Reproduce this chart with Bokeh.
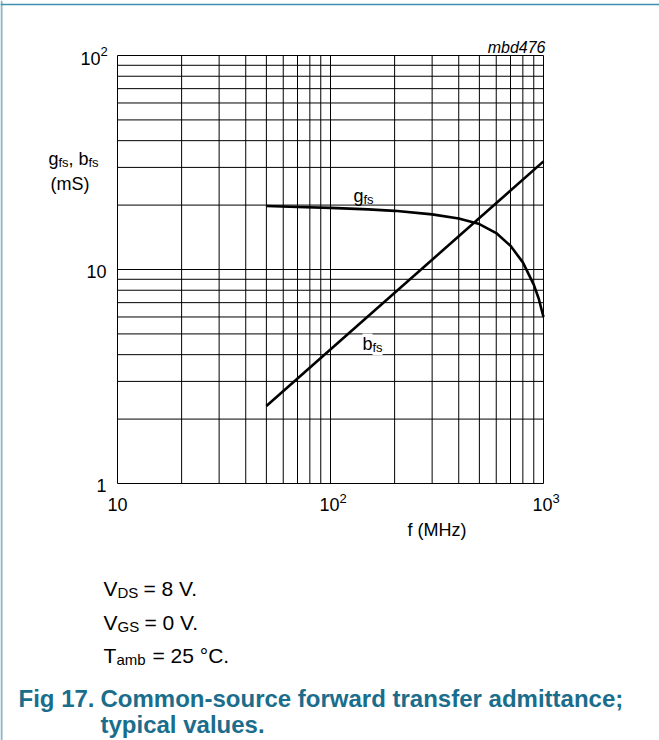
from bokeh.plotting import figure
from bokeh.models import Label, Span, Range1d
from bokeh.embed import file_html
from bokeh.resources import INLINE

# ---- data ----
freq_g = [50, 70, 100, 150, 200, 300, 400, 500, 600, 700, 800, 900, 950, 1000]
g_fs = [19.8, 19.6, 19.4, 19.1, 18.8, 18.1, 17.3, 16.3, 14.8, 12.9, 10.8, 8.5, 7.3, 6.0]
freq_b = [50, 1000]
b_fs = [2.3, 32.0]

x_major = [10, 100, 1000]
x_minor = [20, 30, 40, 50, 60, 70, 80, 90, 200, 300, 400, 500, 600, 700, 800, 900]
y_major = [1, 10, 100]
y_minor = [2, 3, 4, 5, 6, 7, 8, 9, 20, 30, 40, 50, 60, 70, 80, 90]
x_tick_base = ["10", "10", "10"]
x_tick_exp = ["", "2", "3"]
y_tick_base = ["1", "10", "10"]
y_tick_exp = ["", "", "2"]

FONT = "Liberation Sans"
TEAL = "#1b6d8c"

# ---- layout (page pixels) ----
W, H = 659, 740
FL, FT, FR, FB = 117, 55, 543, 483          # chart frame
DX = (FR - FL) / 2.0                          # px per decade
DY = (FB - FT) / 2.0

x_start = 10 ** (1 - FL / DX)
x_end = 10 ** (1 + (W - FL) / DX)
y_start = 10 ** (0 - (H - FB) / DY)
y_end = 10 ** (0 + FB / DY)

p = figure(width=W, height=H, x_axis_type="log", y_axis_type="log",
           x_range=Range1d(x_start, x_end), y_range=Range1d(y_start, y_end),
           x_axis_location=None, y_axis_location=None,
           output_backend="svg", toolbar_location=None,
           min_border=0)
p.outline_line_color = None
p.background_fill_color = "white"
p.border_fill_color = "white"
p.xgrid.visible = False
p.ygrid.visible = False

# page frame lines
p.add_layout(Span(location=1, dimension="height", location_units="screen",
                  line_color="#86b4c8", line_width=2))
p.add_layout(Span(location=H - 4, dimension="width", location_units="screen",
                  line_color="#3f8fae", line_width=1.5))

# grid
xs = x_major + x_minor
p.segment(x0=xs, y0=[y_major[0]] * len(xs), x1=xs, y1=[y_major[-1]] * len(xs),
          line_color="black", line_width=1)
ys = y_major + y_minor
p.segment(x0=[x_major[0]] * len(ys), y0=ys, x1=[x_major[-1]] * len(ys), y1=ys,
          line_color="black", line_width=1)

# curves
p.line(freq_g, g_fs, line_color="black", line_width=2.6)
p.line(freq_b, b_fs, line_color="black", line_width=2.6)


def lab(px, py, text, size, style="normal", color="black", align="left", bg=None):
    kw = {}
    if bg:
        kw = dict(background_fill_color=bg, background_fill_alpha=1.0)
    p.add_layout(Label(x=px, y=H - py, x_units="screen", y_units="screen",
                       text=text, text_font=FONT, text_font_size=f"{size}px",
                       text_font_style=style, text_color=color, text_align=align,
                       text_baseline="alphabetic", **kw))


def tick_label(x, y, text, size, align, baseline, xo, yo):
    p.add_layout(Label(x=x, y=y, text=text, text_font=FONT,
                       text_font_size=f"{size}px", text_color="black",
                       text_align=align, text_baseline=baseline,
                       x_offset=xo, y_offset=yo))


# x tick labels
for v, b, e in zip(x_major, x_tick_base, x_tick_exp):
    if e:
        tick_label(v, y_major[0], b, 18, "center", "middle", -1, -21)
        tick_label(v, y_major[0], e, 13, "left", "middle", 9, -15)
    else:
        tick_label(v, y_major[0], b, 18, "center", "middle", 0, -21)

# y tick labels
for v, b, e in zip(y_major, y_tick_base, y_tick_exp):
    if e:
        tick_label(x_major[0], v, b, 18, "right", "middle", -17, -3)
        tick_label(x_major[0], v, e, 13, "left", "middle", -17, 4)
    else:
        tick_label(x_major[0], v, b, 18, "right", "middle", -11, -2)

lab(545, 47, "mbd476", 16, style="italic", align="right")
# y-axis title
lab(48, 158, "g", 18)
lab(58, 162, "fs", 13)
lab(68, 158, ", b", 18)
lab(88, 162, "fs", 13)
lab(50, 183, "(mS)", 18)
# curve labels
lab(353, 195, "g", 18)
lab(363, 199, "fs", 13)
lab(362, 343, "b", 18, bg="white")
lab(372, 347, "fs", 13, bg="white")
# x title
lab(407, 529, "f (MHz)", 18)
# conditions
lab(103, 588, "V", 21)
lab(117, 592, "DS", 15)
lab(143, 588, "= 8 V.", 21)
lab(103, 622, "V", 21)
lab(117, 626, "GS", 15)
lab(144, 622, "= 0 V.", 21)
lab(103, 655, "T", 21)
lab(116, 659, "amb", 15)
lab(152, 655, "= 25 °C.", 21)
# caption
lab(18, 698, "Fig 17.", 24, style="bold", color=TEAL)
lab(100, 698, "Common-source forward transfer admittance;", 24, style="bold", color=TEAL)
lab(100, 724, "typical values.", 24, style="bold", color=TEAL)

open("out.html", "w").write(file_html(p, INLINE))
